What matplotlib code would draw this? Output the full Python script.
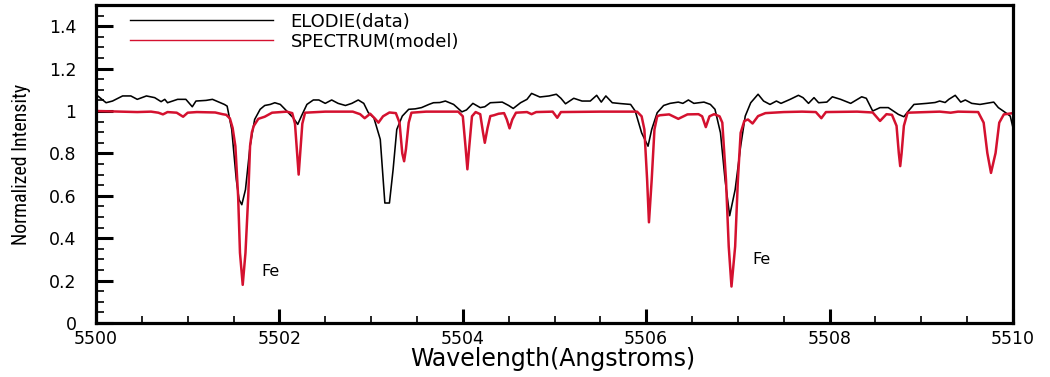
import matplotlib
matplotlib.use("Agg")
import matplotlib.pyplot as plt
from matplotlib.ticker import MultipleLocator
from matplotlib import font_manager as fm

# ---- data ----
data_wl = [5500.00, 5500.11, 5500.18, 5500.29, 5500.38, 5500.45, 5500.55, 5500.64, 5500.71, 5500.75,
           5500.78, 5500.89, 5500.98, 5501.05, 5501.09, 5501.20, 5501.27, 5501.40, 5501.43, 5501.48,
           5501.53, 5501.56, 5501.59, 5501.63, 5501.68, 5501.73, 5501.79, 5501.84, 5501.90, 5501.95,
           5502.01, 5502.08, 5502.15, 5502.20, 5502.24, 5502.30, 5502.37, 5502.43, 5502.50, 5502.57,
           5502.64, 5502.72, 5502.79, 5502.86, 5502.92, 5502.97, 5503.03, 5503.10, 5503.15, 5503.20,
           5503.24, 5503.28, 5503.34, 5503.41, 5503.48, 5503.55, 5503.63, 5503.68, 5503.75, 5503.81,
           5503.90, 5503.99, 5504.04, 5504.11, 5504.19, 5504.24, 5504.30, 5504.43, 5504.50, 5504.55,
           5504.63, 5504.70, 5504.75, 5504.84, 5504.94, 5505.02, 5505.07, 5505.12, 5505.21, 5505.30,
           5505.39, 5505.46, 5505.51, 5505.56, 5505.63, 5505.72, 5505.83, 5505.88, 5505.95, 5506.02,
           5506.06, 5506.12, 5506.19, 5506.26, 5506.35, 5506.40, 5506.46, 5506.52, 5506.63, 5506.70,
           5506.75, 5506.81, 5506.86, 5506.91, 5506.97, 5507.03, 5507.08, 5507.14, 5507.22, 5507.28,
           5507.35, 5507.42, 5507.47, 5507.57, 5507.66, 5507.71, 5507.77, 5507.83, 5507.88, 5507.97,
           5508.03, 5508.12, 5508.23, 5508.35, 5508.40, 5508.47, 5508.55, 5508.64, 5508.75, 5508.81,
           5508.86, 5508.92, 5509.06, 5509.15, 5509.20, 5509.26, 5509.30, 5509.37, 5509.43, 5509.48,
           5509.55, 5509.64, 5509.79, 5509.84, 5509.92, 5509.97, 5510.00]
data_flux = [1.078, 1.039, 1.047, 1.071, 1.071, 1.055, 1.071, 1.063, 1.044, 1.055,
             1.039, 1.055, 1.055, 1.020, 1.047, 1.050, 1.055, 1.031, 1.023, 0.913,
             0.676, 0.582, 0.558, 0.629, 0.834, 0.960, 1.008, 1.026, 1.031, 1.039,
             1.031, 1.000, 0.968, 0.937, 0.976, 1.031, 1.052, 1.052, 1.036, 1.052,
             1.036, 1.026, 1.036, 1.052, 1.036, 0.992, 0.968, 0.866, 0.566, 0.566,
             0.724, 0.913, 0.976, 1.008, 1.010, 1.016, 1.031, 1.039, 1.040, 1.047,
             1.031, 0.996, 1.005, 1.036, 1.016, 1.020, 1.039, 1.042, 1.026, 1.012,
             1.039, 1.055, 1.083, 1.066, 1.071, 1.079, 1.060, 1.034, 1.060, 1.047,
             1.047, 1.074, 1.042, 1.071, 1.039, 1.035, 1.031, 1.000, 0.897, 0.834,
             0.913, 0.992, 1.026, 1.036, 1.042, 1.036, 1.052, 1.036, 1.042, 1.031,
             1.008, 0.897, 0.676, 0.506, 0.629, 0.834, 0.976, 1.039, 1.079, 1.047,
             1.031, 1.047, 1.036, 1.055, 1.074, 1.063, 1.036, 1.063, 1.039, 1.042,
             1.067, 1.055, 1.036, 1.067, 1.060, 1.000, 1.016, 1.016, 0.984, 0.973,
             1.000, 1.031, 1.036, 1.040, 1.047, 1.040, 1.055, 1.074, 1.042, 1.052,
             1.036, 1.031, 1.042, 1.016, 0.992, 0.976, 0.921]

model_wl = [5500.00, 5500.30, 5500.45, 5500.60, 5500.68, 5500.73, 5500.78, 5500.88, 5500.95, 5501.00,
            5501.10, 5501.30, 5501.38, 5501.42, 5501.46, 5501.49, 5501.52, 5501.55, 5501.57, 5501.60,
            5501.63, 5501.66, 5501.68, 5501.70, 5501.72, 5501.77, 5501.84, 5501.92, 5502.08, 5502.14,
            5502.17, 5502.19, 5502.21, 5502.23, 5502.25, 5502.28, 5502.50, 5502.80, 5502.88, 5502.93,
            5502.99, 5503.04, 5503.08, 5503.13, 5503.20, 5503.27, 5503.31, 5503.34, 5503.36, 5503.38,
            5503.41, 5503.44, 5503.60, 5503.95, 5504.00, 5504.03, 5504.05, 5504.07, 5504.10, 5504.14,
            5504.19, 5504.22, 5504.24, 5504.27, 5504.30, 5504.34, 5504.39, 5504.45, 5504.48, 5504.51,
            5504.54, 5504.58, 5504.70, 5504.75, 5504.80, 5504.98, 5505.03, 5505.07, 5505.50, 5505.90,
            5505.95, 5505.98, 5506.01, 5506.03, 5506.06, 5506.09, 5506.12, 5506.15, 5506.25, 5506.35,
            5506.45, 5506.57, 5506.61, 5506.65, 5506.69, 5506.74, 5506.80, 5506.83, 5506.87, 5506.90,
            5506.93, 5506.97, 5507.00, 5507.03, 5507.07, 5507.11, 5507.16, 5507.22, 5507.30, 5507.50,
            5507.70, 5507.85, 5507.91, 5507.96, 5508.30, 5508.47, 5508.55, 5508.62, 5508.68, 5508.73,
            5508.755, 5508.77, 5508.785, 5508.81, 5508.85, 5509.20, 5509.32, 5509.40, 5509.62, 5509.68,
            5509.72, 5509.76, 5509.81, 5509.85, 5509.90, 5510.00]
model_flux = [1.000, 0.997, 0.995, 0.997, 0.992, 0.984, 0.995, 0.992, 0.973, 0.992,
              0.995, 0.993, 0.985, 0.982, 0.965, 0.920, 0.834, 0.597, 0.331, 0.180,
              0.331, 0.597, 0.834, 0.900, 0.929, 0.963, 0.973, 0.992, 0.997, 0.990,
              0.940, 0.820, 0.700, 0.820, 0.940, 0.992, 0.997, 0.997, 0.985, 0.966,
              0.987, 0.965, 0.945, 0.975, 0.993, 0.990, 0.945, 0.800, 0.763, 0.820,
              0.945, 0.992, 0.997, 0.997, 0.975, 0.830, 0.725, 0.830, 0.975, 0.995,
              0.985, 0.900, 0.850, 0.920, 0.976, 0.980, 0.987, 0.990, 0.960, 0.918,
              0.960, 0.992, 0.995, 0.985, 0.995, 0.997, 0.968, 0.995, 0.997, 0.997,
              0.975, 0.913, 0.676, 0.475, 0.676, 0.913, 0.975, 0.980, 0.984, 0.963,
              0.984, 0.985, 0.975, 0.924, 0.975, 0.985, 0.975, 0.945, 0.676, 0.361,
              0.172, 0.361, 0.676, 0.897, 0.953, 0.960, 0.941, 0.976, 0.990, 0.995,
              0.997, 0.995, 0.966, 0.995, 0.997, 0.993, 0.953, 0.985, 0.982, 0.930,
              0.800, 0.740, 0.800, 0.930, 0.992, 0.997, 0.992, 0.997, 0.995, 0.945,
              0.802, 0.708, 0.802, 0.945, 0.984, 0.990]

series_labels = ["ELODIE(data)", "SPECTRUM(model)"]
line_labels = ["Fe", "Fe"]
line_label_wl = [5501.80, 5507.16]
line_label_flux = [0.243, 0.298]

x_label = "Wavelength(Angstroms)"
y_label = "Normalized Intensity"

# ---- pick a narrow font for the y label if one is installed ----
_fonts = fm.fontManager.ttflist
_names = {f.name for f in _fonts}
narrow_family = "DejaVu Sans"
narrow_stretch = "normal"
for cand in ["Liberation Sans Narrow", "Roboto Condensed", "Open Sans Condensed",
             "Noto Sans Condensed", "DejaVu Sans Condensed"]:
    if cand in _names:
        narrow_family = cand
        break
else:
    if any(f.name == "DejaVu Sans" and f.stretch in ("condensed", 300, "semi-condensed")
           for f in _fonts):
        narrow_stretch = "condensed"

# ---- figure ----
fig = plt.figure(figsize=(10.5, 3.77), dpi=100)
ax = fig.add_axes([96/1050, 54/377, 917/1050, 318/377])

red = "#d4112f"
ax.plot(data_wl, data_flux, color="black", lw=1.15, label=series_labels[0])
ax.plot(model_wl, model_flux, color=red, lw=1.8, label=series_labels[1])

for lab, lx, ly in zip(line_labels, line_label_wl, line_label_flux):
    ax.text(lx, ly, lab, fontsize=11.5, family="DejaVu Sans", ha="left", va="center")

ax.set_xlim(5500, 5510)
ax.set_ylim(0, 1.5)
ax.xaxis.set_major_locator(MultipleLocator(2))
ax.xaxis.set_minor_locator(MultipleLocator(0.5))
ax.yaxis.set_minor_locator(MultipleLocator(0.05))
ax.set_yticks([0, 0.2, 0.4, 0.6, 0.8, 1.0, 1.2, 1.4])
ax.set_yticklabels(["0", "0.2", "0.4", "0.6", "0.8", "1", "1.2", "1.4"])

for s in ax.spines.values():
    s.set_linewidth(2.3)

ax.tick_params(axis="both", which="major", direction="in", width=2.2, labelsize=12.5,
               top=False, right=False)
ax.tick_params(axis="y", which="major", length=12, pad=14)
ax.tick_params(axis="x", which="major", length=10, pad=5)
ax.tick_params(axis="both", which="minor", direction="in", width=1.2, length=5,
               top=False, right=False)
ax.tick_params(axis="y", which="minor", length=6)
for t in ax.get_xticklabels() + ax.get_yticklabels():
    t.set_family("DejaVu Sans")

ax.set_xlabel(x_label, fontsize=17, family="DejaVu Sans", va="baseline")
ax.xaxis.set_label_coords(0.498, -0.135)
ylab = ax.set_ylabel(y_label, fontsize=16, family=narrow_family, fontstretch=narrow_stretch,
                     va="center")
ax.yaxis.set_label_coords(-0.081, 0.5)

# fit the y label to the length it has in the reference (about 162 px)
fig.canvas.draw()
_h = ylab.get_window_extent().height
if _h > 0:
    ylab.set_fontsize(16 * 162.0 / _h)

leg = ax.legend(loc="upper left", bbox_to_anchor=(0.037, 0.976), frameon=False,
                prop={"family": "DejaVu Sans", "size": 13},
                handlelength=143/18, handletextpad=17/18, borderpad=0,
                borderaxespad=0, labelspacing=0.12)
for h in leg.get_lines():
    h.set_linewidth(1.0)

fig.savefig("out.png", dpi=100)
